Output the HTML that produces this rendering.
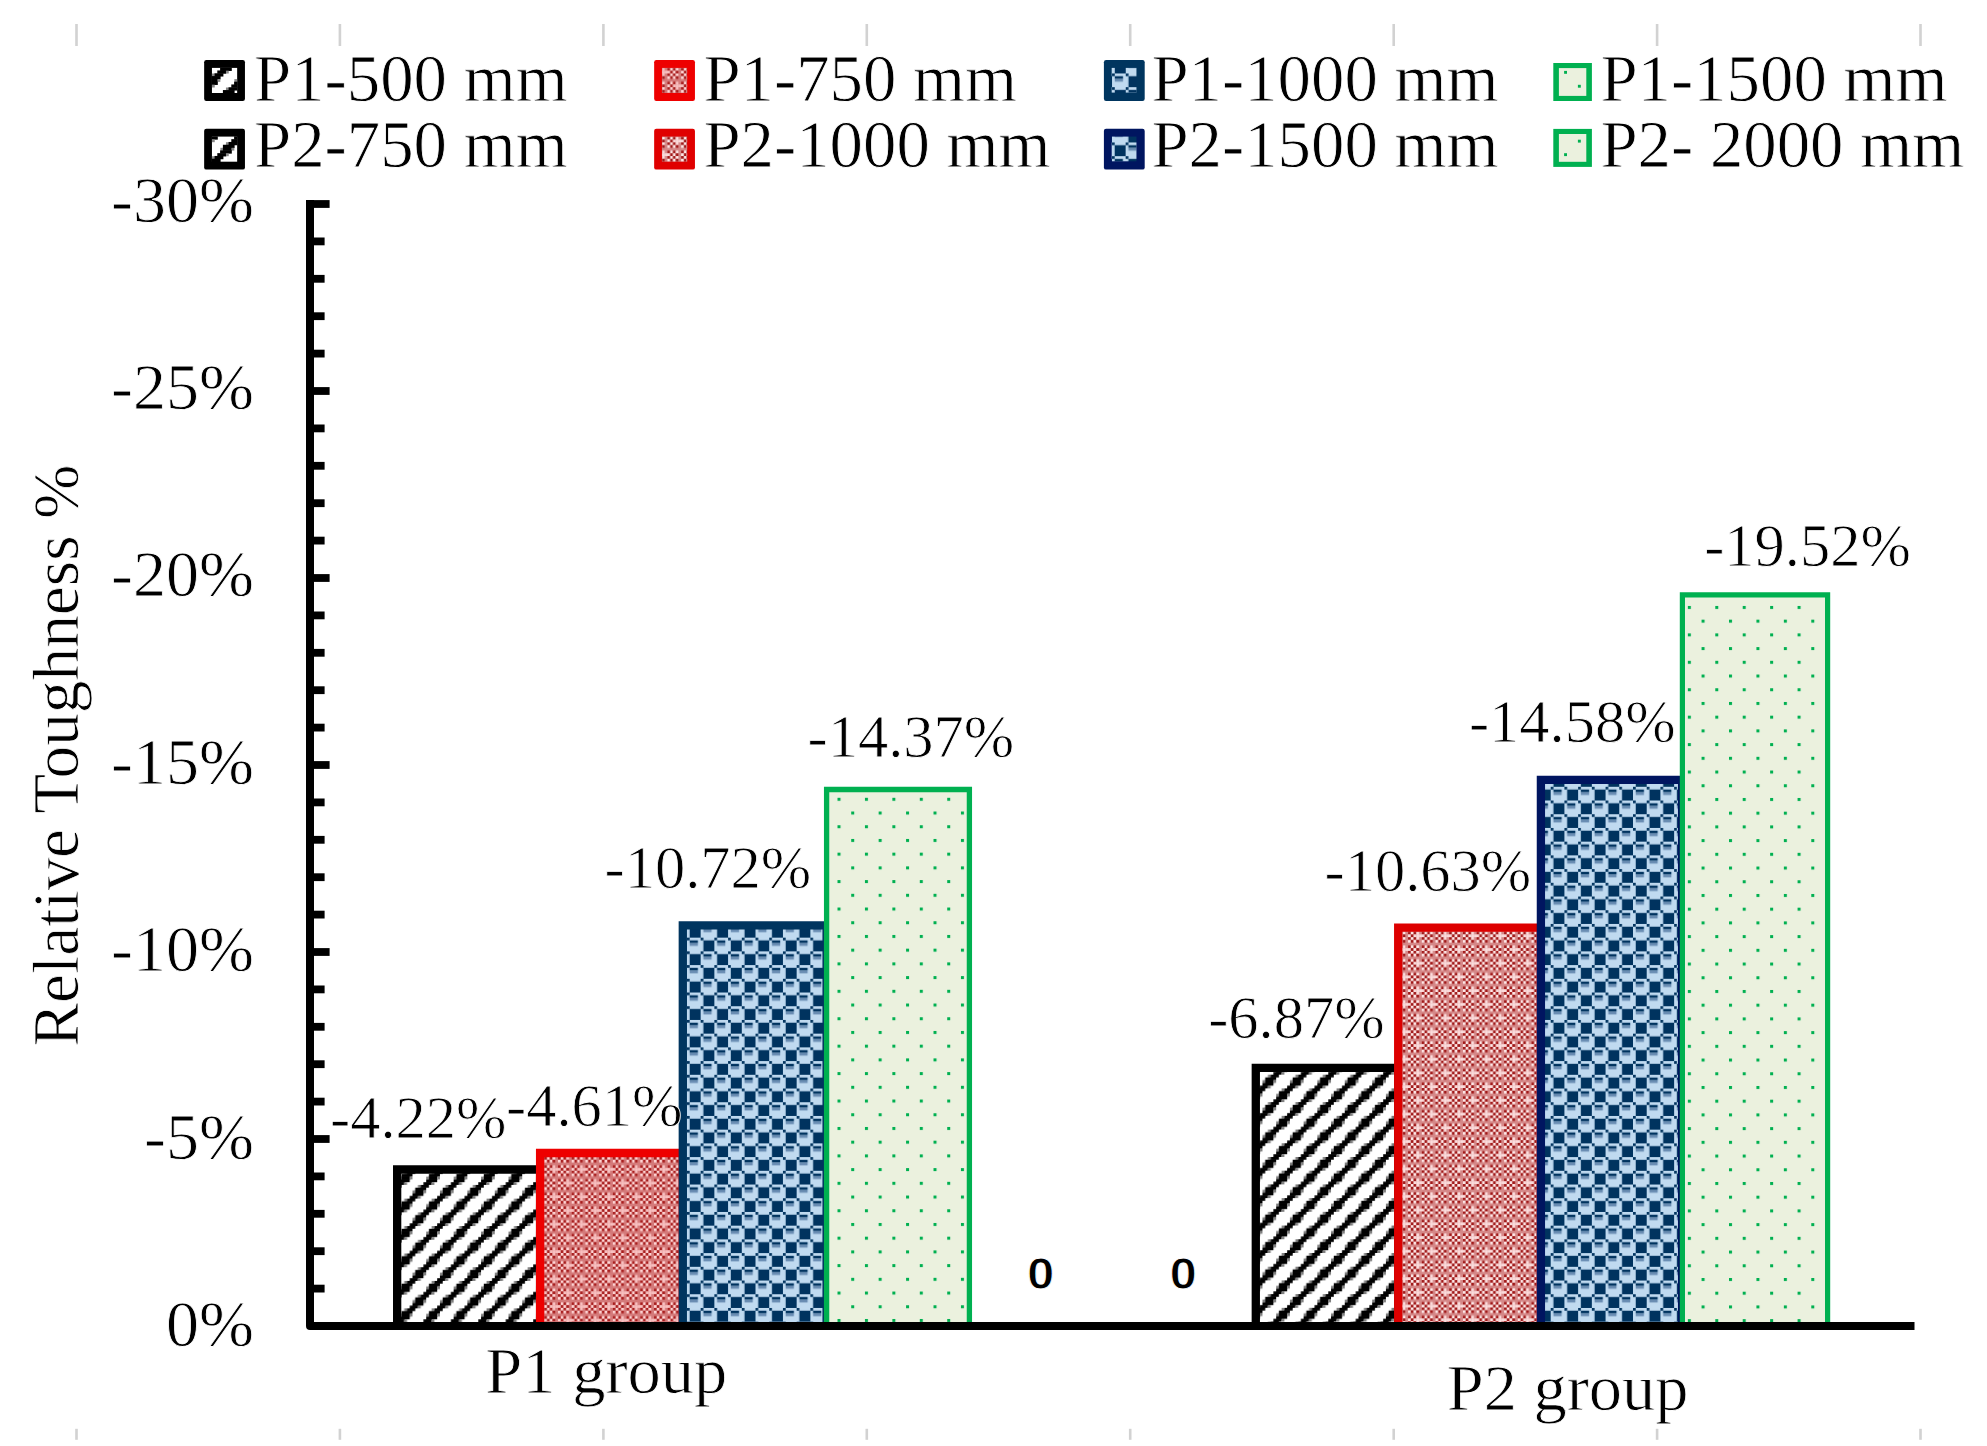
<!DOCTYPE html>
<html><head><meta charset="utf-8"><title>Relative Toughness chart</title>
<style>
html,body{margin:0;padding:0;background:#fff;}
body{width:1987px;height:1446px;overflow:hidden;}
svg{display:block;font-family:"Liberation Serif",serif;fill:#000;}
text{stroke:#fff;stroke-width:0.8px;paint-order:fill stroke;}
</style></head><body>
<svg width="1987" height="1446" viewBox="0 0 1987 1446">
<defs>
<pattern id="pr1" patternUnits="userSpaceOnUse" width="10" height="10" patternTransform="translate(544.30 1157.00) scale(2.743)"><rect width="10" height="10" fill="#d47a7a"/><rect x="0" y="0" width="1" height="1" fill="#a81e1e"/><rect x="1" y="0" width="1" height="1" fill="#ffd6d6"/><rect x="2" y="0" width="1" height="1" fill="#a81e1e"/><rect x="3" y="0" width="1" height="1" fill="#ffd6d6"/><rect x="5" y="0" width="1" height="1" fill="#a81e1e"/><rect x="6" y="0" width="1" height="1" fill="#ffd6d6"/><rect x="7" y="0" width="1" height="1" fill="#a81e1e"/><rect x="8" y="0" width="1" height="1" fill="#f8c0c0"/><rect x="0" y="1" width="1" height="1" fill="#ffd6d6"/><rect x="1" y="1" width="1" height="1" fill="#a81e1e"/><rect x="2" y="1" width="1" height="1" fill="#ffd6d6"/><rect x="3" y="1" width="1" height="1" fill="#a81e1e"/><rect x="5" y="1" width="1" height="1" fill="#ffd6d6"/><rect x="6" y="1" width="1" height="1" fill="#a81e1e"/><rect x="7" y="1" width="1" height="1" fill="#ffd6d6"/><rect x="8" y="1" width="1" height="1" fill="#a81e1e"/><rect x="0" y="3" width="1" height="1" fill="#a81e1e"/><rect x="1" y="3" width="1" height="1" fill="#ffd6d6"/><rect x="2" y="3" width="1" height="1" fill="#a81e1e"/><rect x="3" y="3" width="1" height="1" fill="#f8c0c0"/><rect x="5" y="3" width="1" height="1" fill="#a81e1e"/><rect x="6" y="3" width="1" height="1" fill="#ffd6d6"/><rect x="7" y="3" width="1" height="1" fill="#a81e1e"/><rect x="8" y="3" width="1" height="1" fill="#ffd6d6"/><rect x="0" y="4" width="1" height="1" fill="#ffd6d6"/><rect x="1" y="4" width="1" height="1" fill="#a81e1e"/><rect x="2" y="4" width="1" height="1" fill="#f8c0c0"/><rect x="3" y="4" width="1" height="1" fill="#f8c0c0"/><rect x="4" y="4" width="1" height="1" fill="#f8c0c0"/><rect x="5" y="4" width="1" height="1" fill="#f8c0c0"/><rect x="6" y="4" width="1" height="1" fill="#a81e1e"/><rect x="7" y="4" width="1" height="1" fill="#ffd6d6"/><rect x="8" y="4" width="1" height="1" fill="#a81e1e"/><rect x="0" y="5" width="1" height="1" fill="#a81e1e"/><rect x="1" y="5" width="1" height="1" fill="#ffd6d6"/><rect x="2" y="5" width="1" height="1" fill="#a81e1e"/><rect x="3" y="5" width="1" height="1" fill="#f8c0c0"/><rect x="5" y="5" width="1" height="1" fill="#a81e1e"/><rect x="6" y="5" width="1" height="1" fill="#ffd6d6"/><rect x="7" y="5" width="1" height="1" fill="#a81e1e"/><rect x="8" y="5" width="1" height="1" fill="#ffd6d6"/><rect x="0" y="6" width="1" height="1" fill="#ffd6d6"/><rect x="1" y="6" width="1" height="1" fill="#a81e1e"/><rect x="2" y="6" width="1" height="1" fill="#ffd6d6"/><rect x="3" y="6" width="1" height="1" fill="#a81e1e"/><rect x="5" y="6" width="1" height="1" fill="#ffd6d6"/><rect x="6" y="6" width="1" height="1" fill="#a81e1e"/><rect x="7" y="6" width="1" height="1" fill="#ffd6d6"/><rect x="8" y="6" width="1" height="1" fill="#a81e1e"/><rect x="0" y="8" width="1" height="1" fill="#a81e1e"/><rect x="1" y="8" width="1" height="1" fill="#ffd6d6"/><rect x="2" y="8" width="1" height="1" fill="#a81e1e"/><rect x="3" y="8" width="1" height="1" fill="#ffd6d6"/><rect x="5" y="8" width="1" height="1" fill="#a81e1e"/><rect x="6" y="8" width="1" height="1" fill="#ffd6d6"/><rect x="7" y="8" width="1" height="1" fill="#a81e1e"/><rect x="8" y="8" width="1" height="1" fill="#f8c0c0"/><rect x="0" y="9" width="1" height="1" fill="#f8c0c0"/><rect x="1" y="9" width="1" height="1" fill="#a81e1e"/><rect x="2" y="9" width="1" height="1" fill="#ffd6d6"/><rect x="3" y="9" width="1" height="1" fill="#a81e1e"/><rect x="5" y="9" width="1" height="1" fill="#ffd6d6"/><rect x="6" y="9" width="1" height="1" fill="#a81e1e"/><rect x="7" y="9" width="1" height="1" fill="#f8c0c0"/><rect x="8" y="9" width="1" height="1" fill="#f8c0c0"/><rect x="9" y="9" width="1" height="1" fill="#f8c0c0"/></pattern>
<pattern id="pr2" patternUnits="userSpaceOnUse" width="10" height="10" patternTransform="translate(1408.09 923.46) scale(2.743)"><rect width="10" height="10" fill="#d58888"/><rect x="0" y="0" width="1" height="1" fill="#a01818"/><rect x="1" y="0" width="1" height="1" fill="#ffeaea"/><rect x="2" y="0" width="1" height="1" fill="#a01818"/><rect x="3" y="0" width="1" height="1" fill="#ffeaea"/><rect x="5" y="0" width="1" height="1" fill="#a01818"/><rect x="6" y="0" width="1" height="1" fill="#ffeaea"/><rect x="7" y="0" width="1" height="1" fill="#a01818"/><rect x="8" y="0" width="1" height="1" fill="#fbdcdc"/><rect x="0" y="1" width="1" height="1" fill="#ffeaea"/><rect x="1" y="1" width="1" height="1" fill="#a01818"/><rect x="2" y="1" width="1" height="1" fill="#ffeaea"/><rect x="3" y="1" width="1" height="1" fill="#a01818"/><rect x="5" y="1" width="1" height="1" fill="#ffeaea"/><rect x="6" y="1" width="1" height="1" fill="#a01818"/><rect x="7" y="1" width="1" height="1" fill="#ffeaea"/><rect x="8" y="1" width="1" height="1" fill="#a01818"/><rect x="0" y="3" width="1" height="1" fill="#a01818"/><rect x="1" y="3" width="1" height="1" fill="#ffeaea"/><rect x="2" y="3" width="1" height="1" fill="#a01818"/><rect x="3" y="3" width="1" height="1" fill="#fbdcdc"/><rect x="5" y="3" width="1" height="1" fill="#a01818"/><rect x="6" y="3" width="1" height="1" fill="#ffeaea"/><rect x="7" y="3" width="1" height="1" fill="#a01818"/><rect x="8" y="3" width="1" height="1" fill="#ffeaea"/><rect x="0" y="4" width="1" height="1" fill="#ffeaea"/><rect x="1" y="4" width="1" height="1" fill="#a01818"/><rect x="2" y="4" width="1" height="1" fill="#fbdcdc"/><rect x="3" y="4" width="1" height="1" fill="#fbdcdc"/><rect x="4" y="4" width="1" height="1" fill="#fbdcdc"/><rect x="5" y="4" width="1" height="1" fill="#fbdcdc"/><rect x="6" y="4" width="1" height="1" fill="#a01818"/><rect x="7" y="4" width="1" height="1" fill="#ffeaea"/><rect x="8" y="4" width="1" height="1" fill="#a01818"/><rect x="0" y="5" width="1" height="1" fill="#a01818"/><rect x="1" y="5" width="1" height="1" fill="#ffeaea"/><rect x="2" y="5" width="1" height="1" fill="#a01818"/><rect x="3" y="5" width="1" height="1" fill="#fbdcdc"/><rect x="5" y="5" width="1" height="1" fill="#a01818"/><rect x="6" y="5" width="1" height="1" fill="#ffeaea"/><rect x="7" y="5" width="1" height="1" fill="#a01818"/><rect x="8" y="5" width="1" height="1" fill="#ffeaea"/><rect x="0" y="6" width="1" height="1" fill="#ffeaea"/><rect x="1" y="6" width="1" height="1" fill="#a01818"/><rect x="2" y="6" width="1" height="1" fill="#ffeaea"/><rect x="3" y="6" width="1" height="1" fill="#a01818"/><rect x="5" y="6" width="1" height="1" fill="#ffeaea"/><rect x="6" y="6" width="1" height="1" fill="#a01818"/><rect x="7" y="6" width="1" height="1" fill="#ffeaea"/><rect x="8" y="6" width="1" height="1" fill="#a01818"/><rect x="0" y="8" width="1" height="1" fill="#a01818"/><rect x="1" y="8" width="1" height="1" fill="#ffeaea"/><rect x="2" y="8" width="1" height="1" fill="#a01818"/><rect x="3" y="8" width="1" height="1" fill="#ffeaea"/><rect x="5" y="8" width="1" height="1" fill="#a01818"/><rect x="6" y="8" width="1" height="1" fill="#ffeaea"/><rect x="7" y="8" width="1" height="1" fill="#a01818"/><rect x="8" y="8" width="1" height="1" fill="#fbdcdc"/><rect x="0" y="9" width="1" height="1" fill="#fbdcdc"/><rect x="1" y="9" width="1" height="1" fill="#a01818"/><rect x="2" y="9" width="1" height="1" fill="#ffeaea"/><rect x="3" y="9" width="1" height="1" fill="#a01818"/><rect x="5" y="9" width="1" height="1" fill="#ffeaea"/><rect x="6" y="9" width="1" height="1" fill="#a01818"/><rect x="7" y="9" width="1" height="1" fill="#fbdcdc"/><rect x="8" y="9" width="1" height="1" fill="#fbdcdc"/><rect x="9" y="9" width="1" height="1" fill="#fbdcdc"/></pattern>
<pattern id="pb1" patternUnits="userSpaceOnUse" width="10" height="10" patternTransform="translate(673.22 937.66) scale(2.743)"><rect width="10" height="10" fill="#c0daf0"/><rect x="0" y="0" width="1" height="1" fill="#00335f"/><rect x="1" y="1" width="4" height="4" fill="#00335f"/><rect x="5" y="0" width="1" height="1" fill="#00335f"/><rect x="6" y="1" width="3" height="1" fill="#00335f"/><rect x="6" y="2" width="3" height="1" fill="#6a8db3"/><rect x="0" y="5" width="1" height="1" fill="#00335f"/><rect x="1" y="6" width="3" height="1" fill="#00335f"/><rect x="1" y="7" width="3" height="1" fill="#6a8db3"/><rect x="5" y="5" width="1" height="1" fill="#00335f"/><rect x="6" y="6" width="4" height="4" fill="#00335f"/></pattern>
<pattern id="pb2" patternUnits="userSpaceOnUse" width="10" height="10" patternTransform="translate(1536.99 786.80) scale(2.743)"><rect width="10" height="10" fill="#c0daf0"/><rect x="0" y="0" width="1" height="1" fill="#00335f"/><rect x="1" y="1" width="4" height="4" fill="#00335f"/><rect x="5" y="0" width="1" height="1" fill="#00335f"/><rect x="6" y="1" width="3" height="1" fill="#00335f"/><rect x="6" y="2" width="3" height="1" fill="#6a8db3"/><rect x="0" y="5" width="1" height="1" fill="#00335f"/><rect x="1" y="6" width="3" height="1" fill="#00335f"/><rect x="1" y="7" width="3" height="1" fill="#6a8db3"/><rect x="5" y="5" width="1" height="1" fill="#00335f"/><rect x="6" y="6" width="4" height="4" fill="#00335f"/></pattern>
<pattern id="pg1" patternUnits="userSpaceOnUse" width="10" height="10" patternTransform="translate(837.50 797.80) scale(2.743)"><rect width="10" height="10" fill="#ebf1de"/><rect x="0" y="0" width="1.1" height="1.1" fill="#00b050"/><rect x="5" y="5" width="1.1" height="1.1" fill="#00b050"/></pattern>
<pattern id="ph1" patternUnits="userSpaceOnUse" width="10" height="10" patternTransform="translate(426.21 1212.35) scale(2.743)"><rect width="10" height="10" fill="#fff"/><rect x="0" y="0" width="1" height="1" fill="#000000"/><rect x="7" y="0" width="1" height="1" fill="#808080"/><rect x="8" y="0" width="2" height="1" fill="#000000"/><rect x="6" y="1" width="4" height="1" fill="#000000"/><rect x="5" y="2" width="1" height="1" fill="#808080"/><rect x="6" y="2" width="3" height="1" fill="#000000"/><rect x="9" y="2" width="1" height="1" fill="#808080"/><rect x="5" y="3" width="4" height="1" fill="#000000"/><rect x="4" y="4" width="3" height="1" fill="#000000"/><rect x="7" y="4" width="1" height="1" fill="#808080"/><rect x="2" y="5" width="1" height="1" fill="#808080"/><rect x="3" y="5" width="3" height="1" fill="#000000"/><rect x="1" y="6" width="4" height="1" fill="#000000"/><rect x="0" y="7" width="1" height="1" fill="#808080"/><rect x="1" y="7" width="3" height="1" fill="#000000"/><rect x="4" y="7" width="1" height="1" fill="#808080"/><rect x="0" y="8" width="4" height="1" fill="#000000"/><rect x="0" y="9" width="2" height="1" fill="#000000"/><rect x="2" y="9" width="1" height="1" fill="#808080"/><rect x="9" y="9" width="1" height="1" fill="#000000"/><rect x="8" y="0.8" width="2" height="0.4" fill="#000"/><rect x="6" y="1.8" width="3" height="0.4" fill="#000"/><rect x="6" y="2.8" width="3" height="0.4" fill="#000"/><rect x="5" y="3.8" width="2" height="0.4" fill="#000"/><rect x="4" y="4.8" width="2" height="0.4" fill="#000"/><rect x="3" y="5.8" width="2" height="0.4" fill="#000"/><rect x="1" y="6.8" width="3" height="0.4" fill="#000"/><rect x="1" y="7.8" width="3" height="0.4" fill="#000"/><rect x="0" y="8.8" width="2" height="0.4" fill="#000"/></pattern>
<pattern id="ph2" patternUnits="userSpaceOnUse" width="10" height="10" patternTransform="translate(1262.47 1074.68) scale(2.743)"><rect width="10" height="10" fill="#fff"/><rect x="2" y="0" width="1" height="1" fill="#808080"/><rect x="3" y="0" width="3" height="1" fill="#000000"/><rect x="1" y="1" width="4" height="1" fill="#000000"/><rect x="0" y="2" width="1" height="1" fill="#808080"/><rect x="1" y="2" width="3" height="1" fill="#000000"/><rect x="4" y="2" width="1" height="1" fill="#808080"/><rect x="0" y="3" width="4" height="1" fill="#000000"/><rect x="0" y="4" width="2" height="1" fill="#000000"/><rect x="2" y="4" width="1" height="1" fill="#808080"/><rect x="9" y="4" width="1" height="1" fill="#000000"/><rect x="0" y="5" width="1" height="1" fill="#000000"/><rect x="7" y="5" width="1" height="1" fill="#808080"/><rect x="8" y="5" width="2" height="1" fill="#000000"/><rect x="6" y="6" width="4" height="1" fill="#000000"/><rect x="5" y="7" width="1" height="1" fill="#808080"/><rect x="6" y="7" width="3" height="1" fill="#000000"/><rect x="9" y="7" width="1" height="1" fill="#808080"/><rect x="5" y="8" width="4" height="1" fill="#000000"/><rect x="4" y="9" width="3" height="1" fill="#000000"/><rect x="7" y="9" width="1" height="1" fill="#808080"/><rect x="3" y="0.8" width="2" height="0.4" fill="#000"/><rect x="1" y="1.8" width="3" height="0.4" fill="#000"/><rect x="1" y="2.8" width="3" height="0.4" fill="#000"/><rect x="0" y="3.8" width="2" height="0.4" fill="#000"/><rect x="0" y="4.8" width="1" height="0.4" fill="#000"/><rect x="9" y="4.8" width="1" height="0.4" fill="#000"/><rect x="8" y="5.8" width="2" height="0.4" fill="#000"/><rect x="6" y="6.8" width="3" height="0.4" fill="#000"/><rect x="6" y="7.8" width="3" height="0.4" fill="#000"/><rect x="5" y="8.8" width="2" height="0.4" fill="#000"/></pattern>
<pattern id="prs1" patternUnits="userSpaceOnUse" width="10" height="10" patternTransform="translate(667.46 73.46) scale(2.743)"><rect width="10" height="10" fill="#d47a7a"/><rect x="0" y="0" width="1" height="1" fill="#a81e1e"/><rect x="1" y="0" width="1" height="1" fill="#ffd6d6"/><rect x="2" y="0" width="1" height="1" fill="#a81e1e"/><rect x="3" y="0" width="1" height="1" fill="#ffd6d6"/><rect x="5" y="0" width="1" height="1" fill="#a81e1e"/><rect x="6" y="0" width="1" height="1" fill="#ffd6d6"/><rect x="7" y="0" width="1" height="1" fill="#a81e1e"/><rect x="8" y="0" width="1" height="1" fill="#f8c0c0"/><rect x="0" y="1" width="1" height="1" fill="#ffd6d6"/><rect x="1" y="1" width="1" height="1" fill="#a81e1e"/><rect x="2" y="1" width="1" height="1" fill="#ffd6d6"/><rect x="3" y="1" width="1" height="1" fill="#a81e1e"/><rect x="5" y="1" width="1" height="1" fill="#ffd6d6"/><rect x="6" y="1" width="1" height="1" fill="#a81e1e"/><rect x="7" y="1" width="1" height="1" fill="#ffd6d6"/><rect x="8" y="1" width="1" height="1" fill="#a81e1e"/><rect x="0" y="3" width="1" height="1" fill="#a81e1e"/><rect x="1" y="3" width="1" height="1" fill="#ffd6d6"/><rect x="2" y="3" width="1" height="1" fill="#a81e1e"/><rect x="3" y="3" width="1" height="1" fill="#f8c0c0"/><rect x="5" y="3" width="1" height="1" fill="#a81e1e"/><rect x="6" y="3" width="1" height="1" fill="#ffd6d6"/><rect x="7" y="3" width="1" height="1" fill="#a81e1e"/><rect x="8" y="3" width="1" height="1" fill="#ffd6d6"/><rect x="0" y="4" width="1" height="1" fill="#ffd6d6"/><rect x="1" y="4" width="1" height="1" fill="#a81e1e"/><rect x="2" y="4" width="1" height="1" fill="#f8c0c0"/><rect x="3" y="4" width="1" height="1" fill="#f8c0c0"/><rect x="4" y="4" width="1" height="1" fill="#f8c0c0"/><rect x="5" y="4" width="1" height="1" fill="#f8c0c0"/><rect x="6" y="4" width="1" height="1" fill="#a81e1e"/><rect x="7" y="4" width="1" height="1" fill="#ffd6d6"/><rect x="8" y="4" width="1" height="1" fill="#a81e1e"/><rect x="0" y="5" width="1" height="1" fill="#a81e1e"/><rect x="1" y="5" width="1" height="1" fill="#ffd6d6"/><rect x="2" y="5" width="1" height="1" fill="#a81e1e"/><rect x="3" y="5" width="1" height="1" fill="#f8c0c0"/><rect x="5" y="5" width="1" height="1" fill="#a81e1e"/><rect x="6" y="5" width="1" height="1" fill="#ffd6d6"/><rect x="7" y="5" width="1" height="1" fill="#a81e1e"/><rect x="8" y="5" width="1" height="1" fill="#ffd6d6"/><rect x="0" y="6" width="1" height="1" fill="#ffd6d6"/><rect x="1" y="6" width="1" height="1" fill="#a81e1e"/><rect x="2" y="6" width="1" height="1" fill="#ffd6d6"/><rect x="3" y="6" width="1" height="1" fill="#a81e1e"/><rect x="5" y="6" width="1" height="1" fill="#ffd6d6"/><rect x="6" y="6" width="1" height="1" fill="#a81e1e"/><rect x="7" y="6" width="1" height="1" fill="#ffd6d6"/><rect x="8" y="6" width="1" height="1" fill="#a81e1e"/><rect x="0" y="8" width="1" height="1" fill="#a81e1e"/><rect x="1" y="8" width="1" height="1" fill="#ffd6d6"/><rect x="2" y="8" width="1" height="1" fill="#a81e1e"/><rect x="3" y="8" width="1" height="1" fill="#ffd6d6"/><rect x="5" y="8" width="1" height="1" fill="#a81e1e"/><rect x="6" y="8" width="1" height="1" fill="#ffd6d6"/><rect x="7" y="8" width="1" height="1" fill="#a81e1e"/><rect x="8" y="8" width="1" height="1" fill="#f8c0c0"/><rect x="0" y="9" width="1" height="1" fill="#f8c0c0"/><rect x="1" y="9" width="1" height="1" fill="#a81e1e"/><rect x="2" y="9" width="1" height="1" fill="#ffd6d6"/><rect x="3" y="9" width="1" height="1" fill="#a81e1e"/><rect x="5" y="9" width="1" height="1" fill="#ffd6d6"/><rect x="6" y="9" width="1" height="1" fill="#a81e1e"/><rect x="7" y="9" width="1" height="1" fill="#f8c0c0"/><rect x="8" y="9" width="1" height="1" fill="#f8c0c0"/><rect x="9" y="9" width="1" height="1" fill="#f8c0c0"/></pattern>
<pattern id="prs2" patternUnits="userSpaceOnUse" width="10" height="10" patternTransform="translate(667.46 128.63) scale(2.743)"><rect width="10" height="10" fill="#d58888"/><rect x="0" y="0" width="1" height="1" fill="#a01818"/><rect x="1" y="0" width="1" height="1" fill="#ffeaea"/><rect x="2" y="0" width="1" height="1" fill="#a01818"/><rect x="3" y="0" width="1" height="1" fill="#ffeaea"/><rect x="5" y="0" width="1" height="1" fill="#a01818"/><rect x="6" y="0" width="1" height="1" fill="#ffeaea"/><rect x="7" y="0" width="1" height="1" fill="#a01818"/><rect x="8" y="0" width="1" height="1" fill="#fbdcdc"/><rect x="0" y="1" width="1" height="1" fill="#ffeaea"/><rect x="1" y="1" width="1" height="1" fill="#a01818"/><rect x="2" y="1" width="1" height="1" fill="#ffeaea"/><rect x="3" y="1" width="1" height="1" fill="#a01818"/><rect x="5" y="1" width="1" height="1" fill="#ffeaea"/><rect x="6" y="1" width="1" height="1" fill="#a01818"/><rect x="7" y="1" width="1" height="1" fill="#ffeaea"/><rect x="8" y="1" width="1" height="1" fill="#a01818"/><rect x="0" y="3" width="1" height="1" fill="#a01818"/><rect x="1" y="3" width="1" height="1" fill="#ffeaea"/><rect x="2" y="3" width="1" height="1" fill="#a01818"/><rect x="3" y="3" width="1" height="1" fill="#fbdcdc"/><rect x="5" y="3" width="1" height="1" fill="#a01818"/><rect x="6" y="3" width="1" height="1" fill="#ffeaea"/><rect x="7" y="3" width="1" height="1" fill="#a01818"/><rect x="8" y="3" width="1" height="1" fill="#ffeaea"/><rect x="0" y="4" width="1" height="1" fill="#ffeaea"/><rect x="1" y="4" width="1" height="1" fill="#a01818"/><rect x="2" y="4" width="1" height="1" fill="#fbdcdc"/><rect x="3" y="4" width="1" height="1" fill="#fbdcdc"/><rect x="4" y="4" width="1" height="1" fill="#fbdcdc"/><rect x="5" y="4" width="1" height="1" fill="#fbdcdc"/><rect x="6" y="4" width="1" height="1" fill="#a01818"/><rect x="7" y="4" width="1" height="1" fill="#ffeaea"/><rect x="8" y="4" width="1" height="1" fill="#a01818"/><rect x="0" y="5" width="1" height="1" fill="#a01818"/><rect x="1" y="5" width="1" height="1" fill="#ffeaea"/><rect x="2" y="5" width="1" height="1" fill="#a01818"/><rect x="3" y="5" width="1" height="1" fill="#fbdcdc"/><rect x="5" y="5" width="1" height="1" fill="#a01818"/><rect x="6" y="5" width="1" height="1" fill="#ffeaea"/><rect x="7" y="5" width="1" height="1" fill="#a01818"/><rect x="8" y="5" width="1" height="1" fill="#ffeaea"/><rect x="0" y="6" width="1" height="1" fill="#ffeaea"/><rect x="1" y="6" width="1" height="1" fill="#a01818"/><rect x="2" y="6" width="1" height="1" fill="#ffeaea"/><rect x="3" y="6" width="1" height="1" fill="#a01818"/><rect x="5" y="6" width="1" height="1" fill="#ffeaea"/><rect x="6" y="6" width="1" height="1" fill="#a01818"/><rect x="7" y="6" width="1" height="1" fill="#ffeaea"/><rect x="8" y="6" width="1" height="1" fill="#a01818"/><rect x="0" y="8" width="1" height="1" fill="#a01818"/><rect x="1" y="8" width="1" height="1" fill="#ffeaea"/><rect x="2" y="8" width="1" height="1" fill="#a01818"/><rect x="3" y="8" width="1" height="1" fill="#ffeaea"/><rect x="5" y="8" width="1" height="1" fill="#a01818"/><rect x="6" y="8" width="1" height="1" fill="#ffeaea"/><rect x="7" y="8" width="1" height="1" fill="#a01818"/><rect x="8" y="8" width="1" height="1" fill="#fbdcdc"/><rect x="0" y="9" width="1" height="1" fill="#fbdcdc"/><rect x="1" y="9" width="1" height="1" fill="#a01818"/><rect x="2" y="9" width="1" height="1" fill="#ffeaea"/><rect x="3" y="9" width="1" height="1" fill="#a01818"/><rect x="5" y="9" width="1" height="1" fill="#ffeaea"/><rect x="6" y="9" width="1" height="1" fill="#a01818"/><rect x="7" y="9" width="1" height="1" fill="#fbdcdc"/><rect x="8" y="9" width="1" height="1" fill="#fbdcdc"/><rect x="9" y="9" width="1" height="1" fill="#fbdcdc"/></pattern>
<pattern id="pbs1" patternUnits="userSpaceOnUse" width="10" height="10" patternTransform="translate(1125.76 73.46) scale(2.743)"><rect width="10" height="10" fill="#c0daf0"/><rect x="0" y="0" width="1" height="1" fill="#00335f"/><rect x="1" y="1" width="4" height="4" fill="#00335f"/><rect x="5" y="0" width="1" height="1" fill="#00335f"/><rect x="6" y="1" width="3" height="1" fill="#00335f"/><rect x="6" y="2" width="3" height="1" fill="#6a8db3"/><rect x="0" y="5" width="1" height="1" fill="#00335f"/><rect x="1" y="6" width="3" height="1" fill="#00335f"/><rect x="1" y="7" width="3" height="1" fill="#6a8db3"/><rect x="5" y="5" width="1" height="1" fill="#00335f"/><rect x="6" y="6" width="4" height="4" fill="#00335f"/></pattern>
<pattern id="pbs2" patternUnits="userSpaceOnUse" width="10" height="10" patternTransform="translate(1111.93 142.46) scale(2.743)"><rect width="10" height="10" fill="#c0daf0"/><rect x="0" y="0" width="1" height="1" fill="#00335f"/><rect x="1" y="1" width="4" height="4" fill="#00335f"/><rect x="5" y="0" width="1" height="1" fill="#00335f"/><rect x="6" y="1" width="3" height="1" fill="#00335f"/><rect x="6" y="2" width="3" height="1" fill="#6a8db3"/><rect x="0" y="5" width="1" height="1" fill="#00335f"/><rect x="1" y="6" width="3" height="1" fill="#00335f"/><rect x="1" y="7" width="3" height="1" fill="#6a8db3"/><rect x="5" y="5" width="1" height="1" fill="#00335f"/><rect x="6" y="6" width="4" height="4" fill="#00335f"/></pattern>
<pattern id="pg2" patternUnits="userSpaceOnUse" width="10" height="10" patternTransform="translate(1687.85 605.95) scale(2.743)"><rect width="10" height="10" fill="#ebf1de"/><rect x="0" y="0" width="1.1" height="1.1" fill="#00b050"/><rect x="5" y="5" width="1.1" height="1.1" fill="#00b050"/></pattern>
</defs>
<rect width="1987" height="1446" fill="#fff"/>
<rect x="75.2" y="24" width="2.6" height="22" fill="#d2d2d2"/>
<rect x="75.2" y="1428.8" width="2.6" height="11" fill="#d2d2d2"/>
<rect x="338.6" y="24" width="2.6" height="22" fill="#d2d2d2"/>
<rect x="338.6" y="1428.8" width="2.6" height="11" fill="#d2d2d2"/>
<rect x="602.1" y="24" width="2.6" height="22" fill="#d2d2d2"/>
<rect x="602.1" y="1428.8" width="2.6" height="11" fill="#d2d2d2"/>
<rect x="865.5" y="24" width="2.6" height="22" fill="#d2d2d2"/>
<rect x="865.5" y="1428.8" width="2.6" height="11" fill="#d2d2d2"/>
<rect x="1128.9" y="24" width="2.6" height="22" fill="#d2d2d2"/>
<rect x="1128.9" y="1428.8" width="2.6" height="11" fill="#d2d2d2"/>
<rect x="1392.4" y="24" width="2.6" height="22" fill="#d2d2d2"/>
<rect x="1392.4" y="1428.8" width="2.6" height="11" fill="#d2d2d2"/>
<rect x="1655.8" y="24" width="2.6" height="22" fill="#d2d2d2"/>
<rect x="1655.8" y="1428.8" width="2.6" height="11" fill="#d2d2d2"/>
<rect x="1919.2" y="24" width="2.6" height="22" fill="#d2d2d2"/>
<rect x="1919.2" y="1428.8" width="2.6" height="11" fill="#d2d2d2"/>
<path d="M397.15 1326.0 V1169.50 H540.10 V1326.0" fill="url(#ph1)" stroke="#000" stroke-width="8.3"/>
<path d="M540.10 1326.0 V1153.00 H682.80 V1326.0" fill="url(#pr1)" stroke="#ee0000" stroke-width="8.3"/>
<path d="M682.80 1326.0 V925.40 H826.60 V1326.0" fill="url(#pb1)" stroke="#00355f" stroke-width="8.3"/>
<path d="M826.60 1326.0 V789.50 H969.40 V1326.0" fill="url(#pg1)" stroke="#00b050" stroke-width="5.3"/>
<path d="M1255.80 1326.0 V1067.86 H1398.20 V1326.0" fill="url(#ph2)" stroke="#000" stroke-width="8.3"/>
<path d="M1398.20 1326.0 V927.65 H1540.90 V1326.0" fill="url(#pr2)" stroke="#dd0000" stroke-width="8.3"/>
<path d="M1540.90 1326.0 V779.90 H1682.10 V1326.0" fill="url(#pb2)" stroke="#001560" stroke-width="8.3"/>
<path d="M1682.40 1326.0 V594.85 H1827.60 V1326.0" fill="url(#pg2)" stroke="#00b050" stroke-width="5.2"/>
<path d="M310 200.0 V1326.0 H1914.5" fill="none" stroke="#000" stroke-width="8" stroke-linejoin="round"/>
<rect x="310" y="1284.70" width="14.6" height="7.8" fill="#000"/>
<rect x="310" y="1247.30" width="14.6" height="7.8" fill="#000"/>
<rect x="310" y="1209.90" width="14.6" height="7.8" fill="#000"/>
<rect x="310" y="1172.50" width="14.6" height="7.8" fill="#000"/>
<rect x="310" y="1135.10" width="19.6" height="7.8" fill="#000"/>
<rect x="310" y="1097.70" width="14.6" height="7.8" fill="#000"/>
<rect x="310" y="1060.30" width="14.6" height="7.8" fill="#000"/>
<rect x="310" y="1022.90" width="14.6" height="7.8" fill="#000"/>
<rect x="310" y="985.50" width="14.6" height="7.8" fill="#000"/>
<rect x="310" y="948.10" width="19.6" height="7.8" fill="#000"/>
<rect x="310" y="910.70" width="14.6" height="7.8" fill="#000"/>
<rect x="310" y="873.30" width="14.6" height="7.8" fill="#000"/>
<rect x="310" y="835.90" width="14.6" height="7.8" fill="#000"/>
<rect x="310" y="798.50" width="14.6" height="7.8" fill="#000"/>
<rect x="310" y="761.10" width="19.6" height="7.8" fill="#000"/>
<rect x="310" y="723.70" width="14.6" height="7.8" fill="#000"/>
<rect x="310" y="686.30" width="14.6" height="7.8" fill="#000"/>
<rect x="310" y="648.90" width="14.6" height="7.8" fill="#000"/>
<rect x="310" y="611.50" width="14.6" height="7.8" fill="#000"/>
<rect x="310" y="574.10" width="19.6" height="7.8" fill="#000"/>
<rect x="310" y="536.70" width="14.6" height="7.8" fill="#000"/>
<rect x="310" y="499.30" width="14.6" height="7.8" fill="#000"/>
<rect x="310" y="461.90" width="14.6" height="7.8" fill="#000"/>
<rect x="310" y="424.50" width="14.6" height="7.8" fill="#000"/>
<rect x="310" y="387.10" width="19.6" height="7.8" fill="#000"/>
<rect x="310" y="349.70" width="14.6" height="7.8" fill="#000"/>
<rect x="310" y="312.30" width="14.6" height="7.8" fill="#000"/>
<rect x="310" y="274.90" width="14.6" height="7.8" fill="#000"/>
<rect x="310" y="237.50" width="14.6" height="7.8" fill="#000"/>
<rect x="310" y="200.10" width="19.6" height="7.8" fill="#000"/>
<text x="254" y="1346.0" font-size="66" text-anchor="end" >0%</text>
<text x="254" y="1158.6" font-size="66" text-anchor="end" >-5%</text>
<text x="254" y="971.2" font-size="66" text-anchor="end" >-10%</text>
<text x="254" y="783.8" font-size="66" text-anchor="end" >-15%</text>
<text x="254" y="596.4" font-size="66" text-anchor="end" >-20%</text>
<text x="254" y="409.0" font-size="66" text-anchor="end" >-25%</text>
<text x="254" y="221.6" font-size="66" text-anchor="end" >-30%</text>
<text transform="translate(78 1046.5) rotate(-90)" font-size="65.3">Relative Toughness %</text>
<rect x="204.15" y="60.00" width="40.8" height="40.9" rx="2.2" fill="#000"/>
<rect x="211.95" y="67.90" width="25.2" height="25.1" fill="#fff"/>
<rect x="220.10" y="67.65" width="11.70" height="3.30" fill="#000"/><rect x="217.30" y="70.45" width="8.90" height="3.30" fill="#000"/><rect x="225.95" y="70.70" width="2.80" height="2.80" fill="#888"/><rect x="211.95" y="73.50" width="2.80" height="2.80" fill="#888"/><rect x="214.50" y="73.25" width="8.90" height="3.30" fill="#000"/><rect x="211.70" y="76.05" width="8.90" height="3.30" fill="#000"/><rect x="211.70" y="78.85" width="6.10" height="3.30" fill="#000"/><rect x="217.55" y="79.10" width="2.80" height="2.80" fill="#888"/><rect x="234.35" y="79.10" width="2.80" height="2.80" fill="#888"/><rect x="211.70" y="81.65" width="6.10" height="3.30" fill="#000"/><rect x="234.10" y="81.65" width="3.30" height="3.30" fill="#000"/><rect x="211.95" y="84.70" width="2.80" height="2.80" fill="#888"/><rect x="231.30" y="84.45" width="6.10" height="3.30" fill="#000"/><rect x="225.95" y="87.50" width="2.80" height="2.80" fill="#888"/><rect x="228.50" y="87.25" width="8.90" height="3.30" fill="#000"/><rect x="222.90" y="90.05" width="11.70" height="3.30" fill="#000"/>
<text x="254.0" y="100.6" font-size="66.8" text-anchor="start" >P1-500 mm</text>
<rect x="654.15" y="60.00" width="40.8" height="40.9" rx="2.2" fill="#ee0000"/>
<rect x="661.95" y="67.90" width="25.2" height="25.1" fill="url(#prs1)"/>
<text x="703.4" y="100.6" font-size="66.8" text-anchor="start" >P1-750 mm</text>
<rect x="1103.90" y="60.00" width="40.8" height="40.9" rx="2.2" fill="#00355f"/>
<rect x="1111.70" y="67.90" width="24.75" height="24.7" fill="url(#pbs1)"/>
<text x="1151.4" y="100.6" font-size="66.8" text-anchor="start" >P1-1000 mm</text>
<rect x="1553.3" y="63.0" width="38.6" height="38.0" fill="#00b050"/>
<rect x="1558.9" y="68.1" width="27.4" height="27.8" fill="#ebf1de"/>
<rect x="1564.1" y="70.9" width="2.9" height="2.9" fill="#00b050"/>
<rect x="1577.9" y="84.8" width="2.9" height="2.9" fill="#00b050"/>
<text x="1600.4" y="100.6" font-size="66.8" text-anchor="start" >P1-1500 mm</text>
<rect x="204.15" y="128.70" width="40.8" height="40.9" rx="2.2" fill="#000"/>
<rect x="211.95" y="136.60" width="25.2" height="25.1" fill="#fff"/>
<rect x="211.70" y="136.35" width="6.10" height="3.30" fill="#000"/><rect x="234.10" y="136.35" width="3.30" height="3.30" fill="#000"/><rect x="211.95" y="139.40" width="2.80" height="2.80" fill="#888"/><rect x="231.30" y="139.15" width="6.10" height="3.30" fill="#000"/><rect x="225.95" y="142.20" width="2.80" height="2.80" fill="#888"/><rect x="228.50" y="141.95" width="8.90" height="3.30" fill="#000"/><rect x="222.90" y="144.75" width="11.70" height="3.30" fill="#000"/><rect x="220.35" y="147.80" width="2.80" height="2.80" fill="#888"/><rect x="222.90" y="147.55" width="8.90" height="3.30" fill="#000"/><rect x="231.55" y="147.80" width="2.80" height="2.80" fill="#888"/><rect x="220.10" y="150.35" width="11.70" height="3.30" fill="#000"/><rect x="217.30" y="153.15" width="8.90" height="3.30" fill="#000"/><rect x="225.95" y="153.40" width="2.80" height="2.80" fill="#888"/><rect x="211.95" y="156.20" width="2.80" height="2.80" fill="#888"/><rect x="214.50" y="155.95" width="8.90" height="3.30" fill="#000"/><rect x="211.70" y="158.75" width="8.90" height="3.30" fill="#000"/>
<text x="254.0" y="166.5" font-size="66.8" text-anchor="start" >P2-750 mm</text>
<rect x="654.15" y="128.70" width="40.8" height="40.9" rx="2.2" fill="#e00000"/>
<rect x="661.95" y="136.60" width="25.2" height="25.1" fill="url(#prs2)"/>
<text x="703.4" y="166.5" font-size="66.8" text-anchor="start" >P2-1000 mm</text>
<rect x="1103.90" y="128.70" width="40.8" height="40.9" rx="2.2" fill="#001560"/>
<rect x="1111.70" y="136.60" width="24.75" height="24.7" fill="url(#pbs2)"/>
<text x="1151.4" y="166.5" font-size="66.8" text-anchor="start" >P2-1500 mm</text>
<rect x="1553.3" y="128.9" width="38.6" height="38.0" fill="#00b050"/>
<rect x="1558.9" y="134.0" width="27.4" height="27.8" fill="#ebf1de"/>
<rect x="1577.9" y="139.7" width="2.9" height="2.9" fill="#00b050"/>
<rect x="1564.1" y="153.2" width="2.9" height="2.9" fill="#00b050"/>
<text x="1600.4" y="166.5" font-size="66.8" text-anchor="start" >P2- 2000 mm</text>
<text x="330.0" y="1138.3" font-size="60.5" text-anchor="start" >-4.22%</text>
<text x="506.1" y="1126.4" font-size="60.5" text-anchor="start" >-4.61%</text>
<text x="604.5" y="888.3" font-size="60.5" text-anchor="start" >-10.72%</text>
<text x="807.5" y="756.8" font-size="60.5" text-anchor="start" >-14.37%</text>
<text x="1208.2" y="1038.3" font-size="60.5" text-anchor="start" >-6.87%</text>
<text x="1324.5" y="891" font-size="60.5" text-anchor="start" >-10.63%</text>
<text x="1468.9" y="742" font-size="60.5" text-anchor="start" >-14.58%</text>
<text x="1704.2" y="566.4" font-size="60.5" text-anchor="start" >-19.52%</text>
<text transform="translate(1040.6 1288.6) scale(1.1 1)" font-size="44" text-anchor="middle" font-family="Liberation Sans, sans-serif" font-weight="bold" stroke="none">0</text>
<text transform="translate(1183.3 1288.6) scale(1.1 1)" font-size="44" text-anchor="middle" font-family="Liberation Sans, sans-serif" font-weight="bold" stroke="none">0</text>
<text x="485.3" y="1392.7" font-size="66.5" text-anchor="start" >P1 group</text>
<text x="1446.8" y="1409.7" font-size="66.4" text-anchor="start" >P2 group</text>
</svg>
</body></html>
